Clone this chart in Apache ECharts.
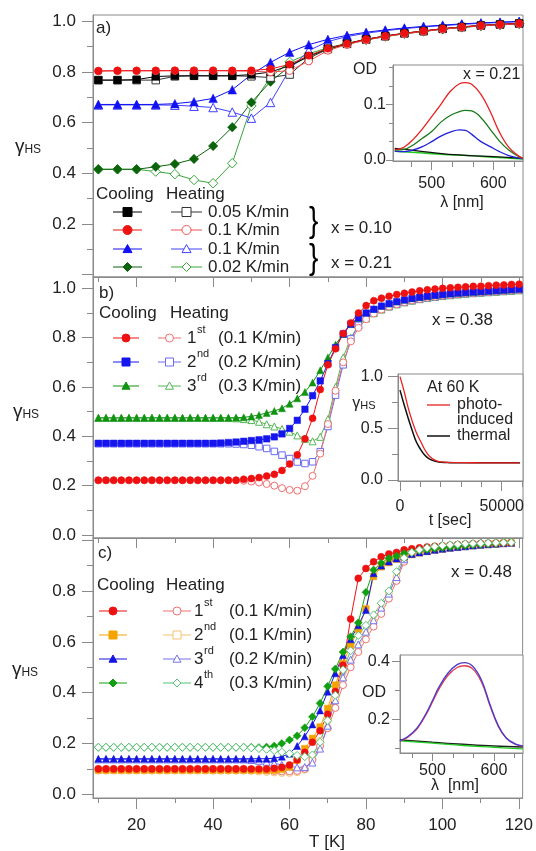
<!DOCTYPE html>
<html>
<head>
<meta charset="utf-8">
<title>gamma HS</title>
<script src="https://cdn.jsdelivr.net/npm/echarts@6/dist/echarts.min.js"></script>
<style>body{margin:0;background:#fff}</style>
</head>
<body>
<div id="main" style="width:536px;height:851px;"></div>
<script>
// ---------- data ----------
// panel a: x = 0.10 and 0.21, step 5 K
var tA = [10,15,20,25,30,35,40,45,50,55,60,65,70,75,80,85,90,95,100,105,110,115,120];
var aBlackCool = [0.768,0.768,0.770,0.782,0.785,0.785,0.785,0.785,0.790,0.800,0.825,0.862,0.893,0.912,0.929,0.942,0.953,0.962,0.971,0.978,0.984,0.988,0.992];
var aBlackHeat = [0.768,0.768,0.768,0.768,0.783,0.785,0.785,0.785,0.783,0.778,0.790,0.855,0.890,0.911,0.928,0.941,0.952,0.961,0.970,0.977,0.983,0.987,0.991];
var aRedCool   = [0.804,0.805,0.805,0.805,0.805,0.805,0.805,0.805,0.806,0.812,0.830,0.865,0.893,0.912,0.929,0.942,0.953,0.962,0.971,0.978,0.984,0.988,0.992];
var aRedHeat   = [0.804,0.805,0.805,0.805,0.806,0.806,0.806,0.805,0.803,0.800,0.805,0.843,0.885,0.908,0.926,0.940,0.951,0.960,0.969,0.976,0.982,0.986,0.990];
var aBlueCool  = [0.672,0.672,0.672,0.672,0.675,0.683,0.696,0.730,0.790,0.838,0.878,0.908,0.929,0.945,0.957,0.966,0.974,0.980,0.985,0.990,0.994,0.997,1.000];
var aBlueHeat  = [0.670,0.670,0.670,0.670,0.669,0.665,0.660,0.642,0.618,0.680,0.810,0.885,0.920,0.940,0.953,0.963,0.971,0.978,0.983,0.988,0.992,0.995,0.998];
var aGreenCool = [0.416,0.416,0.416,0.426,0.437,0.457,0.508,0.582,0.680,0.762,0.822,0.862,0.890,0.910,0.927,0.940,0.951,0.960,0.969,0.976,0.982,0.986,0.990];
var aGreenHeat = [0.416,0.416,0.416,0.407,0.397,0.374,0.361,0.440,0.666,0.780,0.840,0.872,0.896,0.913,0.929,0.942,0.952,0.961,0.970,0.977,0.983,0.987,0.991];

// panel b: x = 0.38, step 2 K
var tB = [10,12,14,16,18,20,22,24,26,28,30,32,34,36,38,40,42,44,46,48,50,52,54,56,58,60,62,64,66,68,70,72,74,76,78,80,82,84,86,88,90,92,94,96,98,100,102,104,106,108,110,112,114,116,118,120];
var bRedCool = [0.222,0.222,0.222,0.222,0.222,0.222,0.222,0.222,0.222,0.222,0.222,0.222,0.222,0.222,0.222,0.222,0.222,0.222,0.222,
  0.226,0.229,0.233,0.239,0.246,0.262,0.288,0.325,0.390,0.473,0.590,0.690,0.755,0.817,0.860,0.900,
  0.930,0.950,0.960,0.968,0.975,0.980,0.985,0.990,0.994,0.997,1.000,1.002,1.004,1.006,1.008,1.009,1.011,1.013,1.014,1.016,1.017];
var bRedHeat = [0.222,0.222,0.222,0.222,0.222,0.222,0.222,0.222,0.222,0.222,0.222,0.222,0.222,0.222,0.222,0.222,0.222,0.222,0.222,
  0.220,0.217,0.213,0.207,0.200,0.190,0.183,0.180,0.198,0.240,0.330,0.450,0.585,0.700,0.785,0.840,
  0.875,0.898,0.914,0.926,0.936,0.944,0.951,0.957,0.962,0.966,0.970,0.973,0.976,0.979,0.981,0.983,0.985,0.987,0.989,0.991,0.993];
var bBlueCool = [0.372,0.372,0.372,0.372,0.372,0.372,0.372,0.372,0.372,0.372,0.372,0.372,0.372,0.372,0.372,0.372,0.373,0.375,0.377,
  0.380,0.383,0.386,0.390,0.398,0.410,0.432,0.465,0.510,0.565,0.625,0.695,0.760,0.815,0.855,0.880,
  0.900,0.915,0.928,0.938,0.946,0.953,0.959,0.964,0.968,0.972,0.975,0.978,0.981,0.983,0.985,0.987,0.989,0.991,0.993,0.995,0.997];
var bBlueHeat = [0.370,0.370,0.370,0.370,0.370,0.370,0.370,0.370,0.370,0.370,0.370,0.370,0.370,0.370,0.370,0.370,0.370,0.370,0.369,
  0.367,0.364,0.358,0.351,0.339,0.324,0.310,0.296,0.290,0.297,0.338,0.440,0.567,0.690,0.795,0.850,
  0.882,0.902,0.916,0.927,0.936,0.944,0.951,0.957,0.962,0.966,0.970,0.973,0.976,0.979,0.981,0.983,0.985,0.987,0.989,0.991,0.993];
var bGreenCool = [0.475,0.475,0.475,0.475,0.475,0.475,0.475,0.475,0.475,0.475,0.475,0.475,0.475,0.475,0.475,0.475,0.475,0.475,0.476,
  0.477,0.481,0.487,0.495,0.503,0.514,0.532,0.554,0.580,0.618,0.668,0.720,0.772,0.815,0.855,0.880,
  0.902,0.917,0.929,0.939,0.947,0.954,0.960,0.965,0.969,0.973,0.976,0.979,0.982,0.984,0.986,0.988,0.990,0.992,0.994,0.996,0.998];
var bGreenHeat = [0.475,0.475,0.475,0.475,0.475,0.475,0.475,0.475,0.475,0.475,0.475,0.475,0.475,0.475,0.475,0.475,0.475,0.475,0.473,
  0.470,0.466,0.459,0.449,0.440,0.430,0.419,0.404,0.390,0.380,0.398,0.470,0.600,0.720,0.800,0.850,
  0.878,0.899,0.914,0.926,0.935,0.943,0.950,0.956,0.961,0.965,0.969,0.972,0.975,0.978,0.980,0.982,0.984,0.986,0.988,0.990,0.992];

// panel c: x = 0.48, step 2 K
var tC = [10,12,14,16,18,20,22,24,26,28,30,32,34,36,38,40,42,44,46,48,50,52,54,56,58,60,62,64,66,68,70,72,74,76,78,80,82,84,86,88,90,92,94,96,98,100,102,104,106,108,110,112,114,116,118];
var cRedCool = [0.100,0.100,0.100,0.100,0.100,0.100,0.100,0.100,0.100,0.100,0.100,0.100,0.100,0.100,0.100,0.100,0.100,0.100,0.100,0.100,0.100,0.100,0.100,
  0.102,0.106,0.115,0.135,0.165,0.205,0.250,0.315,0.405,0.508,0.690,0.850,0.889,0.915,
  0.935,0.946,0.952,0.962,0.966,0.970,0.973,0.976,0.978,0.980,0.982,0.984,0.985,0.986,0.987,0.988,0.989,0.990];
var cOrangeCool = [0.095,0.095,0.095,0.095,0.095,0.095,0.095,0.095,0.095,0.095,0.095,0.095,0.095,0.095,0.095,0.095,0.095,0.095,0.095,0.095,0.095,0.095,0.095,0.095,
  0.098,0.107,0.135,0.180,0.220,0.265,0.338,0.430,0.515,0.585,0.650,0.730,0.857,
  0.895,0.912,0.925,0.935,0.943,0.950,0.956,0.961,0.965,0.969,0.972,0.975,0.978,0.981,0.983,0.985,0.987,0.989];
var cBlueCool = [0.140,0.140,0.140,0.140,0.140,0.140,0.140,0.140,0.140,0.140,0.140,0.140,0.140,0.140,0.140,0.140,0.140,0.140,0.140,0.140,0.140,0.140,0.140,
  0.142,0.148,0.160,0.190,0.228,0.275,0.330,0.404,0.476,0.548,0.610,0.665,0.725,0.870,
  0.900,0.916,0.928,0.938,0.946,0.952,0.957,0.962,0.966,0.970,0.973,0.976,0.979,0.982,0.984,0.986,0.988,0.990];
var cGreenCool = [0.185,0.185,0.185,0.185,0.185,0.185,0.185,0.185,0.185,0.185,0.185,0.185,0.185,0.185,0.185,0.185,0.185,0.185,0.185,0.185,0.185,
  0.184,0.186,0.190,0.200,0.214,0.230,0.262,0.305,0.358,0.425,0.493,0.560,0.620,0.675,0.795,0.883,
  0.910,0.929,0.938,0.948,0.954,0.959,0.963,0.967,0.970,0.973,0.976,0.979,0.981,0.983,0.985,0.987,0.990,0.991];
var cRedHeat = [0.100,0.100,0.100,0.100,0.100,0.100,0.100,0.100,0.100,0.100,0.100,0.100,0.100,0.100,0.100,0.100,0.100,0.100,0.100,0.100,
  0.098,0.096,0.094,0.092,0.090,0.090,0.092,0.100,0.135,0.190,0.260,0.340,0.430,0.500,0.560,0.610,0.660,0.710,0.770,0.840,
  0.915,0.945,0.958,0.966,0.972,0.976,0.979,0.982,0.984,0.986,0.987,0.988,0.989,0.990,0.990];
var cOrangeHeat = [0.093,0.093,0.093,0.093,0.093,0.093,0.093,0.093,0.093,0.093,0.093,0.093,0.093,0.093,0.093,0.093,0.093,0.093,0.093,0.093,
  0.092,0.090,0.088,0.086,0.084,0.084,0.087,0.097,0.140,0.210,0.290,0.370,0.450,0.520,0.580,0.630,0.680,0.730,0.790,0.855,
  0.922,0.948,0.960,0.968,0.973,0.977,0.980,0.983,0.985,0.986,0.987,0.988,0.989,0.990,0.991];
var cBlueHeat = [0.137,0.137,0.137,0.137,0.137,0.137,0.137,0.137,0.137,0.137,0.137,0.137,0.137,0.137,0.137,0.137,0.137,0.137,0.137,0.137,
  0.135,0.132,0.128,0.122,0.116,0.110,0.106,0.107,0.125,0.180,0.270,0.370,0.460,0.530,0.590,0.640,0.685,0.735,0.790,0.855,
  0.925,0.950,0.961,0.969,0.974,0.978,0.981,0.984,0.986,0.987,0.988,0.989,0.990,0.991,0.992];
var cGreenHeat = [0.185,0.185,0.185,0.185,0.185,0.185,0.185,0.185,0.185,0.185,0.185,0.185,0.185,0.185,0.185,0.185,0.185,0.185,0.185,0.185,
  0.183,0.180,0.177,0.172,0.166,0.160,0.153,0.148,0.155,0.205,0.290,0.390,0.490,0.565,0.625,0.665,0.706,0.752,0.800,0.876,
  0.930,0.952,0.962,0.970,0.975,0.979,0.982,0.984,0.986,0.987,0.988,0.989,0.990,0.990,0.991];

// inset a: OD spectra, x = 0.21
var lamA = [440,455,470,485,500,515,530,545,555,565,580,595,610,625,640,648];
var odARed   = [0.018,0.023,0.037,0.056,0.078,0.100,0.123,0.137,0.139,0.136,0.118,0.087,0.050,0.023,0.008,0.003];
var odAGreen = [0.018,0.019,0.027,0.039,0.051,0.068,0.080,0.087,0.089,0.088,0.076,0.055,0.034,0.018,0.007,0.003];
var odABlue  = [0.016,0.015,0.018,0.024,0.033,0.043,0.050,0.054,0.053,0.046,0.033,0.024,0.015,0.008,0.004,0.002];
var lamAFlat = [440,480,520,560,600,648];
var odABlack = [0.021,0.016,0.011,0.008,0.006,0.003];
var odALime  = [0.016,0.013,0.010,0.008,0.005,0.002];

// inset b: relaxation at 60 K
var tSec = [0,2000,4000,6000,8000,10000,12000,14000,16000,18000,20000,24000,28000,35000,45000,59000];
var relaxPhoto   = [1.000,0.860,0.700,0.570,0.460,0.380,0.300,0.240,0.205,0.185,0.176,0.170,0.168,0.167,0.166,0.166];
var relaxThermal = [0.870,0.730,0.600,0.480,0.370,0.300,0.245,0.210,0.190,0.178,0.172,0.168,0.167,0.166,0.166,0.166];

// inset c: OD spectra, x = 0.48
var lamC = [447,460,475,490,500,510,525,540,552,565,580,593,607,620,635,647];
var odCBlue = [0.125,0.140,0.170,0.222,0.265,0.310,0.360,0.390,0.397,0.385,0.335,0.255,0.178,0.135,0.114,0.108];
var odCRed  = [0.124,0.138,0.167,0.218,0.260,0.303,0.352,0.380,0.386,0.376,0.328,0.250,0.175,0.134,0.113,0.107];
var lamCFlat = [447,500,550,600,647];
var odCGreen = [0.125,0.117,0.109,0.103,0.097];
var odCBlack = [0.128,0.120,0.113,0.107,0.104];

// tick values
var tMajor = [20,40,60,80,100,120];
var tMinor = [10,30,50,70,90,110];
var gMajor = [0,0.2,0.4,0.6,0.8,1.0];
var gMinor = [0.1,0.3,0.5,0.7,0.9];

// ---------- layout helpers ----------
var FONT = 'Liberation Sans, Arial, Helvetica, sans-serif';
var GRAY = '#8a8a8a';
var INK = '#222';

function axes(gi, dim, min, max, major, minor, labels, majLen, minLen, margin, fs, fmt) {
  var pos = dim === 'x' ? 'bottom' : 'left';
  var maj = {
    type: 'value', gridIndex: gi, min: min, max: max, position: pos,
    splitLine: {show: false},
    axisLine: {show: true, onZero: false, lineStyle: {color: GRAY, width: 1}},
    axisTick: {show: true, customValues: major, length: majLen, lineStyle: {color: GRAY}},
    axisLabel: labels ? {show: true, customValues: labels, margin: margin, fontSize: fs,
      fontFamily: FONT, color: INK, formatter: fmt} : {show: false}
  };
  var mnr = {
    type: 'value', gridIndex: gi, min: min, max: max, position: pos,
    splitLine: {show: false},
    axisLine: {show: false, onZero: false},
    axisTick: {show: true, customValues: minor, length: minLen, lineStyle: {color: GRAY}},
    axisLabel: {show: false}
  };
  return [maj, mnr];
}
function f1(v) { return v.toFixed(1); }
function f0(v) { return String(Math.round(v)); }

var grids = [
  {left: 93, top: 15, width: 430, height: 262},
  {left: 93, top: 277, width: 430, height: 261},
  {left: 93, top: 538, width: 430, height: 260},
  {left: 393, top: 65, width: 130, height: 96, backgroundColor: '#fff'},
  {left: 398, top: 374, width: 125, height: 107, backgroundColor: '#fff'},
  {left: 400, top: 655, width: 123, height: 98, backgroundColor: '#fff'}
];
grids.forEach(function (g) { g.show = true; g.borderColor = GRAY; g.borderWidth = 1; if (!g.backgroundColor) g.backgroundColor = 'transparent'; });

var xAxes = [].concat(
  axes(0, 'x', 8.6, 121, tMajor, tMinor, null, 10, 5),
  axes(1, 'x', 8.6, 121, tMajor, tMinor, null, 10, 5),
  axes(2, 'x', 8.6, 121, tMajor, tMinor, tMajor, 11, 5, 19, 17, f0),
  axes(3, 'x', 437.2, 648.2, [500,600], [466.67,533.33,566.67,633.33], [500,600], 9, 6, 15, 16, f0),
  axes(4, 'x', -983, 60470, [0,50000], [10000,20000,30000,40000,60000], [0,50000], 10, 6, 18, 16, f0),
  axes(5, 'x', 447.2, 647.2, [500,600], [466.67,533.33,566.67,633.33], [500,600], 8, 5, 10, 16, f0)
);
var yAxes = [].concat(
  axes(0, 'y', -0.009, 1.025, gMajor, gMinor, [0.2,0.4,0.6,0.8,1.0], 11, 6, 17, 17, f1),
  axes(1, 'y', -0.012, 1.046, gMajor, gMinor, gMajor, 11, 6, 17, 17, f1),
  axes(2, 'y', -0.0146, 1.0087, gMajor, gMinor, [0,0.2,0.4,0.6,0.8], 11, 6, 17, 17, f1),
  axes(3, 'y', -0.0018, 0.1706, [0,0.1], [0.0333,0.0667,0.1333,0.1667], [0,0.1], 7, 4, 7, 16, f1),
  axes(4, 'y', -0.0097, 1.026, [0,0.5,1.0], [0.25,0.75], [0,0.5,1.0], 10, 6, 15, 16, f1),
  axes(5, 'y', 0.083, 0.4233, [0.2,0.4], [0.1,0.3], [0.2,0.4], 8, 5, 10, 16, f1)
);

function pts(xs, ys) { return xs.map(function (x, i) { return [x, ys[i]]; }); }

function mark(panel, xs, ys, sym, color, filled, size) {
  return {
    type: 'line', xAxisIndex: panel * 2, yAxisIndex: panel * 2,
    data: pts(xs, ys), symbol: sym, symbolSize: size, showSymbol: true, showAllSymbol: true,
    lineStyle: {color: color, width: 1},
    itemStyle: filled ? {color: color, borderColor: color, borderWidth: 0.5}
                      : {color: '#fff', borderColor: color, borderWidth: 1},
    emphasis: {disabled: true}, animation: false
  };
}
function curve(panel, xs, ys, color, w) {
  return {
    type: 'line', xAxisIndex: panel * 2, yAxisIndex: panel * 2,
    data: pts(xs, ys), symbol: 'none', smooth: 0.4,
    lineStyle: {color: color, width: w || 1.3}, animation: false
  };
}

var series = [
  // panel a
  mark(0, tA, aGreenHeat, 'diamond', '#3aa53a', false, 9.5),
  mark(0, tA, aGreenCool, 'diamond', '#0b640b', true, 9.5),
  mark(0, tA, aBlueHeat, 'triangle', '#4040ff', false, 8.5),
  mark(0, tA, aBlueCool, 'triangle', '#1010f0', true, 8.5),
  mark(0, tA, aBlackHeat, 'rect', '#333', false, 7.5),
  mark(0, tA, aBlackCool, 'rect', '#000', true, 7.5),
  mark(0, tA, aRedHeat, 'circle', '#f05050', false, 7.5),
  mark(0, tA, aRedCool, 'circle', '#ee1111', true, 7.5),
  // panel b
  mark(1, tB, bGreenHeat, 'triangle', '#55b555', false, 7),
  mark(1, tB, bBlueHeat, 'rect', '#6a6aee', false, 6.5),
  mark(1, tB, bRedHeat, 'circle', '#f07070', false, 7),
  mark(1, tB, bGreenCool, 'triangle', '#119211', true, 7),
  mark(1, tB, bBlueCool, 'rect', '#1515ee', true, 6.5),
  mark(1, tB, bRedCool, 'circle', '#ee1111', true, 7),
  // panel c
  mark(2, tC, cOrangeHeat, 'circle', '#f5c070', false, 7),
  mark(2, tC, cRedHeat, 'circle', '#f07070', false, 7),
  mark(2, tC, cBlueHeat, 'triangle', '#7373ee', false, 7),
  mark(2, tC, cOrangeCool, 'rect', '#f5a300', true, 6.5),
  mark(2, tC, cBlueCool, 'triangle', '#1515e0', true, 7),
  mark(2, tC, cRedCool, 'circle', '#ee1111', true, 7),
  mark(2, tC, cGreenCool, 'diamond', '#11a011', true, 8),
  mark(2, tC, cGreenHeat, 'diamond', '#55c075', false, 8),
  // inset a
  curve(3, lamAFlat, odALime, '#22cc22', 1.6),
  curve(3, lamAFlat, odABlack, '#111', 1.3),
  curve(3, lamA, odABlue, '#2222dd'),
  curve(3, lamA, odAGreen, '#1a7a1a'),
  curve(3, lamA, odARed, '#e82020'),
  // inset b
  curve(4, tSec, relaxThermal, '#111', 1.5),
  curve(4, tSec, relaxPhoto, '#e82020', 1.3),
  // inset c
  curve(5, lamCFlat, odCBlack, '#222', 1.5),
  curve(5, lamCFlat, odCGreen, '#22cc22', 1.3),
  curve(5, lamC, odCRed, '#e04050', 1.3),
  curve(5, lamC, odCBlue, '#4a3ad0', 1.3)
];

// ---------- texts and legend keys ----------
function txt(x, y, s, fs, align, color) {
  return {type: 'text', x: x, y: y, z: 100,
    style: {text: s, fontSize: fs, fontFamily: FONT, fill: color || INK,
      align: align || 'left', verticalAlign: 'middle'}};
}
function gammaHS(x, y, big, small) {
  return {type: 'text', x: x, y: y, z: 100,
    style: {text: '{g|γ}{s|HS}', align: 'center', verticalAlign: 'middle', fill: INK,
      rich: {g: {fontSize: big, fontFamily: FONT, fill: INK},
             s: {fontSize: small, fontFamily: FONT, fill: INK, padding: [big * 0.25, 0, 0, 0]}}}};
}
function key(x1, x2, y, sym, color, filled, size) {
  var mx = (x1 + x2) / 2, h = size / 2;
  var st = filled ? {fill: color, stroke: color, lineWidth: 1} : {fill: '#fff', stroke: color, lineWidth: 1};
  var els = [{type: 'line', z: 100, shape: {x1: x1, y1: y, x2: x2, y2: y}, style: {stroke: color, lineWidth: 1}}];
  if (sym === 'circle') els.push({type: 'circle', z: 101, shape: {cx: mx, cy: y, r: h}, style: st});
  else if (sym === 'rect') els.push({type: 'rect', z: 101, shape: {x: mx - h, y: y - h, width: size, height: size}, style: st});
  else if (sym === 'triangle') els.push({type: 'polygon', z: 101, shape: {points: [[mx, y - h], [mx + h, y + h * 0.8], [mx - h, y + h * 0.8]]}, style: st});
  else els.push({type: 'polygon', z: 101, shape: {points: [[mx, y - h], [mx + h, y], [mx, y + h], [mx - h, y]]}, style: st});
  return els;
}
function ordinal(x, y, n, sup) {
  return [txt(x, y, n, 17), txt(x + 10, y - 8, sup, 11)];
}
function brace(x, y) {
  return {type: 'text', x: x, y: y, z: 100, scaleX: 0.8,
    style: {text: '}', fontSize: 35, fontFamily: FONT, fill: '#000', align: 'left', verticalAlign: 'middle'}};
}

var els = [];
// axis titles and panel tags
els.push(gammaHS(28, 147, 19, 12), gammaHS(26, 412, 19, 12), gammaHS(25, 670, 19, 12));
els.push(txt(327, 842, 'T [K]', 17, 'center'));
els.push(txt(96, 28, 'a)', 17), txt(99, 293, 'b)', 17), txt(98, 553, 'c)', 17));

// panel a legend
els.push(txt(96, 194, 'Cooling', 17), txt(166, 194, 'Heating', 17));
var aRows = [212, 230, 249, 267];
var aKeys = [['rect', '#000', '#333', '0.05 K/min'], ['circle', '#ee1111', '#f05050', '0.1 K/min'],
             ['triangle', '#1010f0', '#4040ff', '0.1 K/min'], ['diamond', '#0b640b', '#3aa53a', '0.02 K/min']];
aKeys.forEach(function (k, i) {
  els = els.concat(key(113, 142, aRows[i], k[0], k[1], true, 9));
  els = els.concat(key(171, 202, aRows[i], k[0], k[2], false, 9));
  els.push(txt(208, aRows[i], k[3], 17));
});
els.push(brace(309, 222), brace(309, 259));
els.push(txt(331, 228, 'x = 0.10', 17), txt(331, 263, 'x = 0.21', 17));

// inset a texts
els.push(txt(353, 70, 'OD', 16), txt(463, 75, 'x = 0.21', 16), txt(462, 203, 'λ [nm]', 16, 'center'));

// panel b legend
els.push(txt(99, 313, 'Cooling', 17), txt(170, 313, 'Heating', 17));
var bRows = [338, 362, 386];
var bKeys = [['circle', '#ee1111', '#f07070', '1', 'st', '(0.1 K/min)'],
             ['rect', '#1515ee', '#6a6aee', '2', 'nd', '(0.2 K/min)'],
             ['triangle', '#119211', '#55b555', '3', 'rd', '(0.3 K/min)']];
bKeys.forEach(function (k, i) {
  els = els.concat(key(113, 139, bRows[i], k[0], k[1], true, 8));
  els = els.concat(key(158, 181, bRows[i], k[0], k[2], false, 8));
  els = els.concat(ordinal(187, bRows[i], k[3], k[4]));
  els.push(txt(218, bRows[i], k[5], 17));
});
els.push(txt(432, 320, 'x = 0.38', 17));

// inset b texts
els.push(gammaHS(364, 404, 16, 11));
els.push(txt(427, 388, 'At 60 K', 16));
els.push({type: 'line', z: 100, shape: {x1: 427, y1: 405, x2: 450, y2: 405}, style: {stroke: '#e82020', lineWidth: 1.3}});
els.push(txt(457, 405, 'photo-', 16), txt(457, 420, 'induced', 16));
els.push({type: 'line', z: 100, shape: {x1: 427, y1: 436, x2: 450, y2: 436}, style: {stroke: '#111', lineWidth: 1.5}});
els.push(txt(457, 436, 'thermal', 16));
els.push(txt(450, 521, 't [sec]', 16, 'center'));

// panel c legend
els.push(txt(97, 585, 'Cooling', 17), txt(166, 585, 'Heating', 17));
var cRows = [611, 635, 659, 683];
var cKeys = [['circle', '#ee1111', '#f07070', '1', 'st', '(0.1 K/min)'],
             ['rect', '#f5a300', '#f5c070', '2', 'nd', '(0.1 K/min)'],
             ['triangle', '#1515e0', '#7373ee', '3', 'rd', '(0.2 K/min)'],
             ['diamond', '#11a011', '#55c075', '4', 'th', '(0.3 K/min)']];
cKeys.forEach(function (k, i) {
  els = els.concat(key(99, 127, cRows[i], k[0], k[1], true, 8));
  els = els.concat(key(163, 191, cRows[i], k[0], k[2], false, 8));
  els = els.concat(ordinal(194, cRows[i], k[3], k[4]));
  els.push(txt(229, cRows[i], k[5], 17));
});
els.push(txt(451, 572, 'x = 0.48', 17));

// inset c texts
els.push(txt(374, 693, 'OD', 16, 'center'), txt(455, 786, 'λ  [nm]', 16, 'center'));

var chart = echarts.init(document.getElementById('main'), null, {renderer: 'canvas'});
chart.setOption({
  animation: false,
  backgroundColor: '#fff',
  grid: grids,
  xAxis: xAxes,
  yAxis: yAxes,
  series: series,
  graphic: {elements: els}
});
</script>
</body>
</html>
